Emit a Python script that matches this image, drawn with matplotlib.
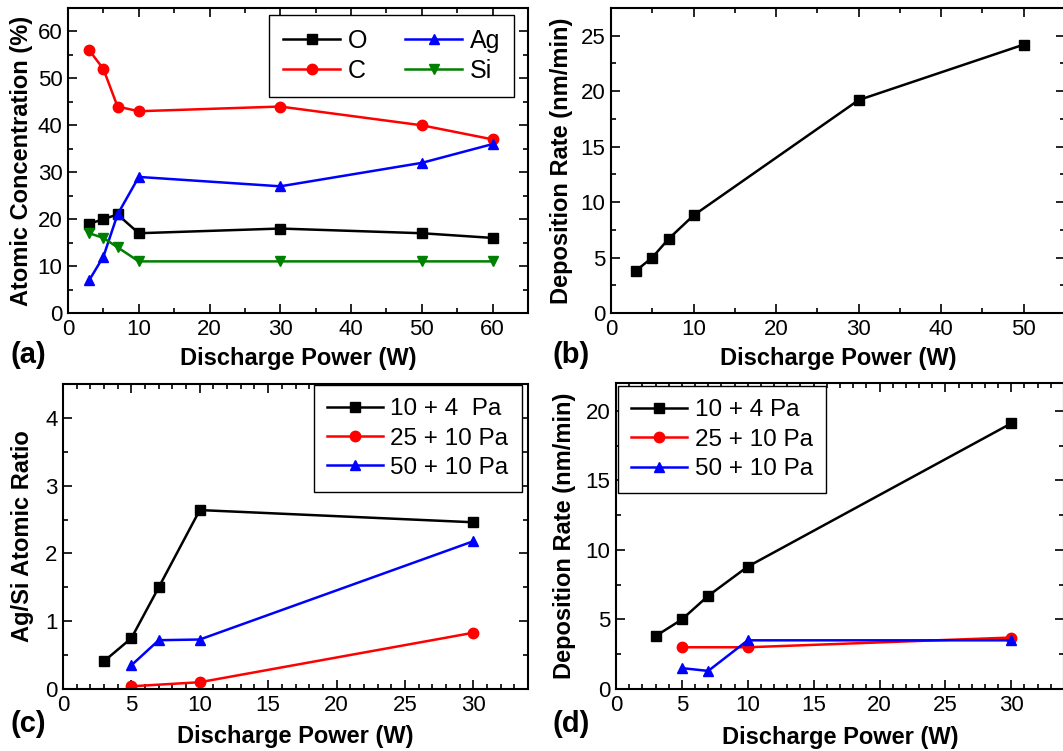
import matplotlib
matplotlib.use("Agg")
import matplotlib.pyplot as plt
from matplotlib.ticker import MultipleLocator

plt.rcParams["font.family"] = ["Liberation Sans", "DejaVu Sans"]

# (a) composition vs power
power_a = [3, 5, 7, 10, 30, 50, 60]
conc_O = [19, 20, 21, 17, 18, 17, 16]
conc_C = [56, 52, 44, 43, 44, 40, 37]
conc_Ag = [7, 12, 21, 29, 27, 32, 36]
conc_Si = [17, 16, 14, 11, 11, 11, 11]

# (b) deposition rate vs power
power_b = [3, 5, 7, 10, 30, 50]
rate_b = [3.8, 5.0, 6.7, 8.8, 19.2, 24.2]

# (c) Ag/Si ratio for three pressures
labels_c = ["10 + 4  Pa", "25 + 10 Pa", "50 + 10 Pa"]
power_c1 = [3, 5, 7, 10, 30]
ratio_c1 = [0.41, 0.75, 1.5, 2.64, 2.46]
power_c2 = [5, 10, 30]
ratio_c2 = [0.04, 0.10, 0.83]
power_c3 = [5, 7, 10, 30]
ratio_c3 = [0.35, 0.72, 0.73, 2.18]

# (d) deposition rate for three pressures
labels_d = ["10 + 4 Pa", "25 + 10 Pa", "50 + 10 Pa"]
power_d1 = [3, 5, 7, 10, 30]
rate_d1 = [3.8, 5.0, 6.7, 8.8, 19.1]
power_d2 = [5, 10, 30]
rate_d2 = [3.0, 3.0, 3.7]
power_d3 = [5, 7, 10, 30]
rate_d3 = [1.5, 1.3, 3.5, 3.5]

W, H = 1063, 751
fig = plt.figure(figsize=(W / 100, H / 100), dpi=100)


def add_axes(left, top, right, bottom):
    return fig.add_axes([left / W, 1 - bottom / H, (right - left) / W, (bottom - top) / H])


def style(ax, xmaj, xmin, ymaj, ymin, xlim, ylim, xlab_y, ylab_x):
    ax.set_xlim(*xlim)
    ax.set_ylim(*ylim)
    ax.xaxis.set_major_locator(MultipleLocator(xmaj))
    ax.xaxis.set_minor_locator(MultipleLocator(xmin))
    ax.yaxis.set_major_locator(MultipleLocator(ymaj))
    ax.yaxis.set_minor_locator(MultipleLocator(ymin))
    ax.tick_params(which="both", direction="in", top=True, right=True, labelsize=16, width=1.2)
    ax.tick_params(which="major", length=6.5, pad=4)
    ax.tick_params(which="minor", length=3.5)
    for s in ax.spines.values():
        s.set_linewidth(1.5)
    ax.set_xlabel("Discharge Power (W)", fontsize=17, fontweight="bold", va="center")
    ax.xaxis.set_label_coords(0.5, xlab_y)
    ax.yaxis.label.set_fontsize(17)
    ax.yaxis.label.set_fontweight("bold")
    ax.yaxis.label.set_va("center")
    ax.yaxis.set_label_coords(ylab_x, 0.5)


def boxed_legend(ax, **kw):
    leg = ax.legend(fancybox=False, edgecolor="black", framealpha=1, borderaxespad=0,
                    handletextpad=0.3, **kw)
    leg.get_frame().set_linewidth(1.0)
    return leg


lw = 1.8
ms = 7.5

ax_a = add_axes(68, 8, 528, 313)
ax_a.plot(power_a, conc_O, "-s", color="black", lw=lw, ms=ms, label="O")
ax_a.plot(power_a, conc_C, "-o", color="red", lw=lw, ms=ms, label="C")
ax_a.plot(power_a, conc_Ag, "-^", color="blue", lw=lw, ms=ms, label="Ag")
ax_a.plot(power_a, conc_Si, "-v", color="green", lw=lw, ms=ms, label="Si")
ax_a.set_ylabel("Atomic Concentration (%)")
style(ax_a, 10, 5, 10, 5, (0, 65), (0, 65), -0.148, -0.10)
boxed_legend(ax_a, loc="upper right", bbox_to_anchor=(0.9696, 0.977), ncol=2, fontsize=18,
             borderpad=0.55, handlelength=2.3, columnspacing=1.5, labelspacing=0.25)

ax_b = add_axes(611, 8, 1065, 313)
ax_b.plot(power_b, rate_b, "-s", color="black", lw=lw, ms=ms)
ax_b.set_ylabel("Deposition Rate (nm/min)")
style(ax_b, 10, 5, 5, 2.5, (0, 55), (0, 27.5), -0.148, -0.108)

ax_c = add_axes(63, 384, 528, 689)
ax_c.plot(power_c1, ratio_c1, "-s", color="black", lw=lw, ms=ms, label=labels_c[0])
ax_c.plot(power_c2, ratio_c2, "-o", color="red", lw=lw, ms=ms, label=labels_c[1])
ax_c.plot(power_c3, ratio_c3, "-^", color="blue", lw=lw, ms=ms, label=labels_c[2])
ax_c.set_ylabel("Ag/Si Atomic Ratio")
style(ax_c, 5, 1, 1, 0.5, (0, 34), (0, 4.5), -0.157, -0.088)
boxed_legend(ax_c, loc="upper right", bbox_to_anchor=(0.987, 0.997), fontsize=17.5,
             borderpad=0.55, handlelength=2.3, labelspacing=0.3)

ax_d = add_axes(616, 383, 1064, 689)
ax_d.plot(power_d1, rate_d1, "-s", color="black", lw=lw, ms=ms, label=labels_d[0])
ax_d.plot(power_d2, rate_d2, "-o", color="red", lw=lw, ms=ms, label=labels_d[1])
ax_d.plot(power_d3, rate_d3, "-^", color="blue", lw=lw, ms=ms, label=labels_d[2])
ax_d.set_ylabel("Deposition Rate (nm/min)")
style(ax_d, 5, 1, 5, 2.5, (0, 34), (0, 22), -0.16, -0.114)
boxed_legend(ax_d, loc="upper left", bbox_to_anchor=(0.0045, 0.99), fontsize=17.5,
             borderpad=0.55, handlelength=2.3, labelspacing=0.3)

for txt, x, y in [("(a)", 10, 355), ("(b)", 552, 355), ("(c)", 10, 724), ("(d)", 552, 724)]:
    fig.text(x / W, 1 - y / H, txt, fontsize=21, fontweight="bold", va="center", ha="left")

fig.savefig("out.png", dpi=100)
